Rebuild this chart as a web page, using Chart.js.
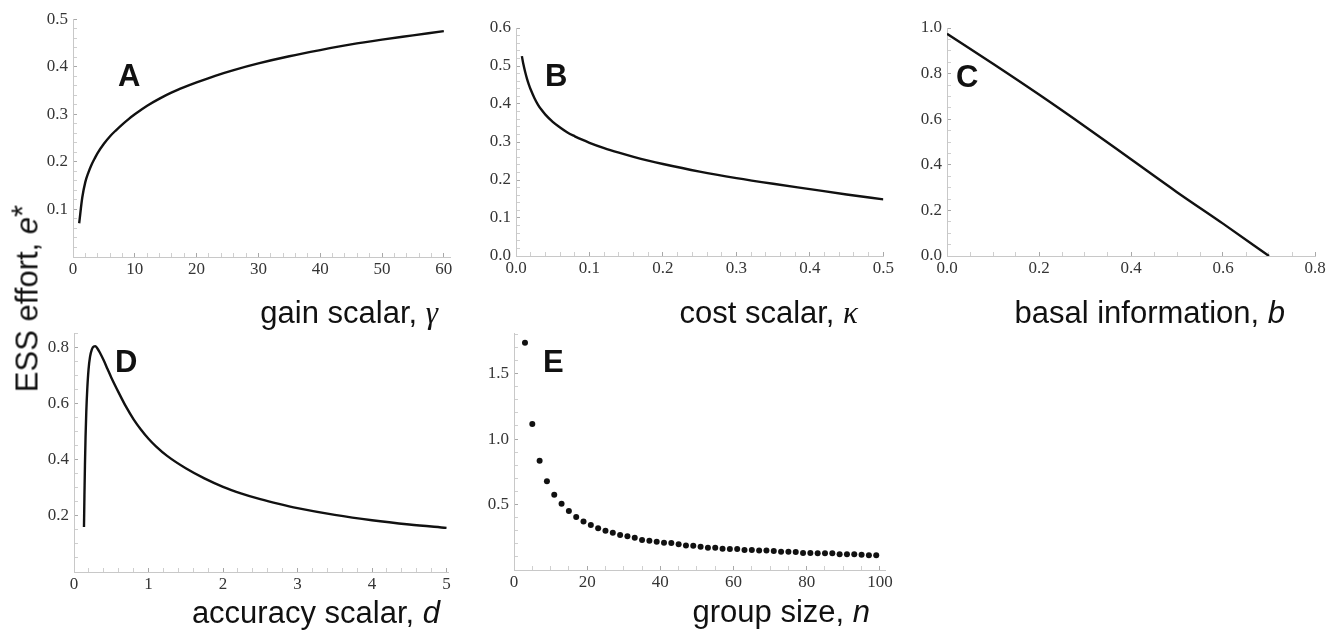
<!DOCTYPE html>
<html>
<head>
<meta charset="utf-8">
<script src="https://cdn.jsdelivr.net/npm/chart.js@4.4.0/dist/chart.umd.min.js"></script>
<style>
  body { margin:0; width:1336px; height:634px; overflow:hidden; background:#fff; position:relative;
         font-family:"Liberation Sans", Arial, sans-serif; color:#111; }
  canvas { position:absolute; }
  .lbl { position:absolute; font-size:31px; line-height:31px; white-space:nowrap; }
  .tag { position:absolute; font-size:31px; line-height:31px; font-weight:bold; }
  .gr { font-family:"Liberation Serif", serif; font-style:italic; }
</style>
</head>
<body>
<canvas id="cA" width="462" height="292" style="left:0;top:0"></canvas>
<canvas id="cB" width="430" height="292" style="left:470px;top:0"></canvas>
<canvas id="cC" width="436" height="292" style="left:900px;top:0"></canvas>
<canvas id="cD" width="462" height="310" style="left:0;top:300px"></canvas>
<canvas id="cE" width="440" height="310" style="left:465px;top:300px"></canvas>

<div class="tag" style="left:118px;top:60px">A</div>
<div class="tag" style="left:545px;top:60px">B</div>
<div class="tag" style="left:956px;top:61px">C</div>
<div class="tag" style="left:115px;top:346px">D</div>
<div class="tag" style="left:543px;top:346px">E</div>

<div class="lbl" style="right:898px;top:297px">gain scalar, <span class="gr">γ</span></div>
<div class="lbl" style="right:478px;top:297px">cost scalar, <span class="gr">κ</span></div>
<div class="lbl" style="right:51px;top:297px">basal information, <i>b</i></div>
<div class="lbl" style="right:896px;top:597px">accuracy scalar, <i>d</i></div>
<div class="lbl" style="right:466px;top:596px">group size, <i>n</i></div>
<div class="lbl" style="left:-73px;top:283px;width:200px;text-align:center;transform:rotate(-90deg)">ESS effort, <i>e</i><span style="position:relative;top:-4px">*</span></div>

<script>
// A: gain scalar
const gainX = [1, 1.5, 2, 2.5, 3, 3.5, 4, 5, 6, 7, 8, 9, 10, 12, 14, 16, 18, 20, 23, 26, 30, 35, 40, 45, 50, 55, 60];
const gainY = [0.071, 0.125, 0.158, 0.178, 0.194, 0.207, 0.219, 0.238, 0.254, 0.267, 0.279, 0.29, 0.300, 0.318, 0.333,
               0.346, 0.357, 0.367, 0.381, 0.393, 0.407, 0.422, 0.435, 0.447, 0.457, 0.466, 0.475];
// B: cost scalar
const costX = [0.008, 0.01, 0.0125, 0.015, 0.0175, 0.02, 0.025, 0.03, 0.035, 0.04, 0.05, 0.06, 0.07, 0.08, 0.09, 0.1,
               0.12, 0.14, 0.16, 0.18, 0.2, 0.25, 0.3, 0.35, 0.4, 0.45, 0.5];
const costY = [0.526, 0.505, 0.484, 0.466, 0.451, 0.438, 0.416, 0.398, 0.384, 0.372, 0.353, 0.338, 0.325, 0.315, 0.306, 0.298,
               0.284, 0.272, 0.261, 0.251, 0.242, 0.222, 0.205, 0.19, 0.176, 0.162, 0.149];
// C: basal information
const basalX = [0, 0.1, 0.2, 0.3, 0.4, 0.5, 0.6, 0.7];
const basalY = [0.975, 0.843, 0.708, 0.568, 0.424, 0.28, 0.142, 0.0];
// D: accuracy scalar
const accX = [0.134, 0.14, 0.147, 0.155, 0.165, 0.178, 0.195, 0.215, 0.24, 0.265, 0.285, 0.31, 0.35, 0.4, 0.45, 0.5, 0.6, 0.7,
              0.8, 0.9, 1.0, 1.1, 1.25, 1.5, 1.75, 2.0, 2.25, 2.5, 2.75, 3.0, 3.5, 4.0, 4.5, 5.0];
const accY = [0.16, 0.27, 0.38, 0.48, 0.57, 0.65, 0.72, 0.765, 0.792, 0.802, 0.803, 0.797, 0.779, 0.752, 0.722, 0.692, 0.638,
              0.587, 0.543, 0.506, 0.474, 0.447, 0.413, 0.369, 0.333, 0.303, 0.279, 0.259, 0.242, 0.227, 0.203, 0.184, 0.169, 0.157];
// E: group size
const groupN = [3, 5, 7, 9, 11, 13, 15, 17, 19, 21, 23, 25, 27, 29, 31, 33, 35, 37, 39, 41, 43, 45, 47, 49,
                51, 53, 55, 57, 59, 61, 63, 65, 67, 69, 71, 73, 75, 77, 79, 81, 83, 85, 87, 89, 91, 93, 95, 97, 99];
const groupE = [1.735, 1.115, 0.835, 0.677, 0.575, 0.506, 0.45, 0.405, 0.371, 0.343, 0.318, 0.30, 0.285, 0.267, 0.257, 0.247,
                0.229, 0.224, 0.216, 0.209, 0.206, 0.196, 0.188, 0.186, 0.178, 0.17, 0.17, 0.163, 0.16, 0.16, 0.153, 0.153,
                0.148, 0.148, 0.145, 0.14, 0.14, 0.137, 0.13, 0.13, 0.127, 0.127, 0.127, 0.12, 0.12, 0.12, 0.117, 0.112, 0.112];

// tick labels
const aXTicks = [0, 10, 20, 30, 40, 50, 60];          const aXLabels = ['0', '10', '20', '30', '40', '50', '60'];
const aYTicks = [0.1, 0.2, 0.3, 0.4, 0.5];            const aYLabels = ['0.1', '0.2', '0.3', '0.4', '0.5'];
const bXTicks = [0, 0.1, 0.2, 0.3, 0.4, 0.5];         const bXLabels = ['0.0', '0.1', '0.2', '0.3', '0.4', '0.5'];
const bYTicks = [0, 0.1, 0.2, 0.3, 0.4, 0.5, 0.6];    const bYLabels = ['0.0', '0.1', '0.2', '0.3', '0.4', '0.5', '0.6'];
const cXTicks = [0, 0.2, 0.4, 0.6, 0.8];              const cXLabels = ['0.0', '0.2', '0.4', '0.6', '0.8'];
const cYTicks = [0, 0.2, 0.4, 0.6, 0.8, 1.0];         const cYLabels = ['0.0', '0.2', '0.4', '0.6', '0.8', '1.0'];
const dXTicks = [0, 1, 2, 3, 4, 5];                   const dXLabels = ['0', '1', '2', '3', '4', '5'];
const dYTicks = [0.2, 0.4, 0.6, 0.8];                 const dYLabels = ['0.2', '0.4', '0.6', '0.8'];
const eXTicks = [0, 20, 40, 60, 80, 100];             const eXLabels = ['0', '20', '40', '60', '80', '100'];
const eYTicks = [0.5, 1.0, 1.5];                      const eYLabels = ['0.5', '1.0', '1.5'];

const tickFont = { family: 'Liberation Serif', size: 17 };

function tickValues(step, max) {
  const vals = [];
  for (let i = 0; i * step <= max + 1e-9; i++) vals.push(+(i * step).toFixed(6));
  return vals;
}

function isMajor(majors, v) {
  return majors.findIndex(m => Math.abs(m - v) < 1e-6);
}

function axis(position, ax) {
  const isX = position === 'bottom';
  return {
    type: 'linear', position: position, min: 0, max: ax.max,
    afterBuildTicks: s => { s.ticks = tickValues(ax.step, ax.max).map(v => ({ value: v })); },
    afterFit: s => { if (isX) s.height = 30; else s.width = 45; },
    ticks: {
      autoSkip: false, maxRotation: 0, minRotation: 0,
      padding: isX ? 6 : 9, color: '#353535', font: tickFont,
      callback: v => { const k = isMajor(ax.majors, v); return k < 0 ? '' : ax.labels[k]; }
    },
    grid: {
      drawOnChartArea: false, drawTicks: true, tickLength: -4, tickWidth: 1,
      tickColor: ctx => isMajor(ax.majors, ctx.tick.value) < 0 ? '#cfcfcf' : '#a8a8a8'
    },
    border: { display: true, color: '#c8c8c8', width: 1 }
  };
}

function makePanel(id, padding, xs, ys, xAx, yAx, dots) {
  const pts = xs.map((x, i) => ({ x: x, y: ys[i] }));
  new Chart(document.getElementById(id), {
    type: 'scatter',
    data: {
      datasets: [dots ? {
        data: pts, showLine: false, pointRadius: 3, pointBackgroundColor: '#111', pointBorderWidth: 0
      } : {
        data: pts, showLine: true, borderColor: '#111', borderWidth: 2.4, pointRadius: 0,
        cubicInterpolationMode: 'monotone'
      }]
    },
    options: {
      responsive: false, animation: false,
      layout: { padding: padding },
      plugins: { legend: { display: false }, tooltip: { enabled: false } },
      scales: { x: axis('bottom', xAx), y: axis('left', yAx) }
    }
  });
}

makePanel('cA', { left: 28, top: 19, right: 12, bottom: 5 }, gainX, gainY,
  { max: 61, step: 2, majors: aXTicks, labels: aXLabels },
  { max: 0.5, step: 0.02, majors: aYTicks, labels: aYLabels });

makePanel('cB', { left: 1, top: 28, right: 16, bottom: 6 }, costX, costY,
  { max: 0.5, step: 0.02, majors: bXTicks, labels: bXLabels },
  { max: 0.6, step: 0.02, majors: bYTicks, labels: bYLabels });

makePanel('cC', { left: 2, top: 28, right: 21, bottom: 6 }, basalX, basalY,
  { max: 0.8, step: 0.05, majors: cXTicks, labels: cXLabels },
  { max: 1.0, step: 0.05, majors: cYTicks, labels: cYLabels });

makePanel('cD', { left: 29, top: 33, right: 14, bottom: 8 }, accX, accY,
  { max: 5.02, step: 0.2, majors: dXTicks, labels: dXLabels },
  { max: 0.85, step: 0.05, majors: dYTicks, labels: dYLabels });

makePanel('cE', { left: 4, top: 33, right: 20, bottom: 10 }, groupN, groupE,
  { max: 101.4, step: 5, majors: eXTicks, labels: eXLabels },
  { max: 1.81, step: 0.1, majors: eYTicks, labels: eYLabels }, true);
</script>
</body>
</html>
